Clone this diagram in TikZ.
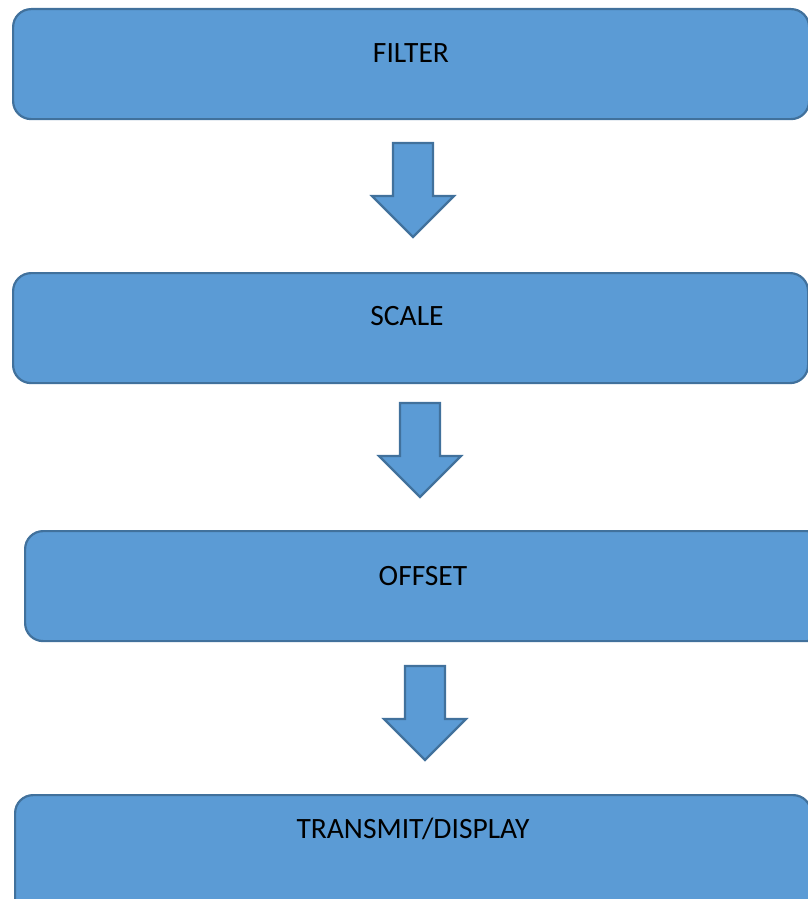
\documentclass[tikz,border=0pt]{standalone}
\usepackage{fontspec}
\setmainfont{Carlito}
\definecolor{stagefill}{HTML}{5B9BD5}
\definecolor{stageline}{HTML}{41719C}
\tikzset{
  stagebox/.style={draw=stageline, fill=stagefill, line width=2.2pt,
    rounded corners=18pt, anchor=north west, inner sep=0pt},
  stagetext/.style={font=\fontsize{29.5}{33}\selectfont, text=black, inner sep=0pt},
  blockarrow/.pic={
    \path[draw=stageline, fill=stagefill, line width=2.2pt, line join=miter]
      (-20,0) -- (20,0) -- (20,53) -- (41,53) -- (0,94) -- (-41,53) -- (-20,53) -- cycle;
  }
}
\begin{document}
\begin{tikzpicture}[x=1pt, y=-1pt]
  \useasboundingbox (0,0) rectangle (808,899);
  \clip (0,0) rectangle (808,899);

  % processing stages
  \node[stagebox, minimum width=796pt, minimum height=110pt] (filter) at (12,8) {};
  \node[stagetext] (filterlabel) at (411,53) {FILTER};

  \node[stagebox, minimum width=795pt, minimum height=110pt] (scale) at (12,272) {};
  \node[stagetext] (scalelabel) at (407,316) {SCALE};

  \node[stagebox, minimum width=800pt, minimum height=110pt] (offset) at (24,530) {};
  \node[stagetext] (offsetlabel) at (423,576) {OFFSET};

  \node[stagebox, minimum width=796pt, minimum height=130pt] (transmit) at (14,794) {};
  \node[stagetext] (transmitlabel) at (413,829) {TRANSMIT/DISPLAY};

  % block arrows between stages
  \pic (step1) at (413,143) {blockarrow};
  \pic (step2) at (420,403) {blockarrow};
  \pic (step3) at (425,666) {blockarrow};
\end{tikzpicture}
\end{document}
